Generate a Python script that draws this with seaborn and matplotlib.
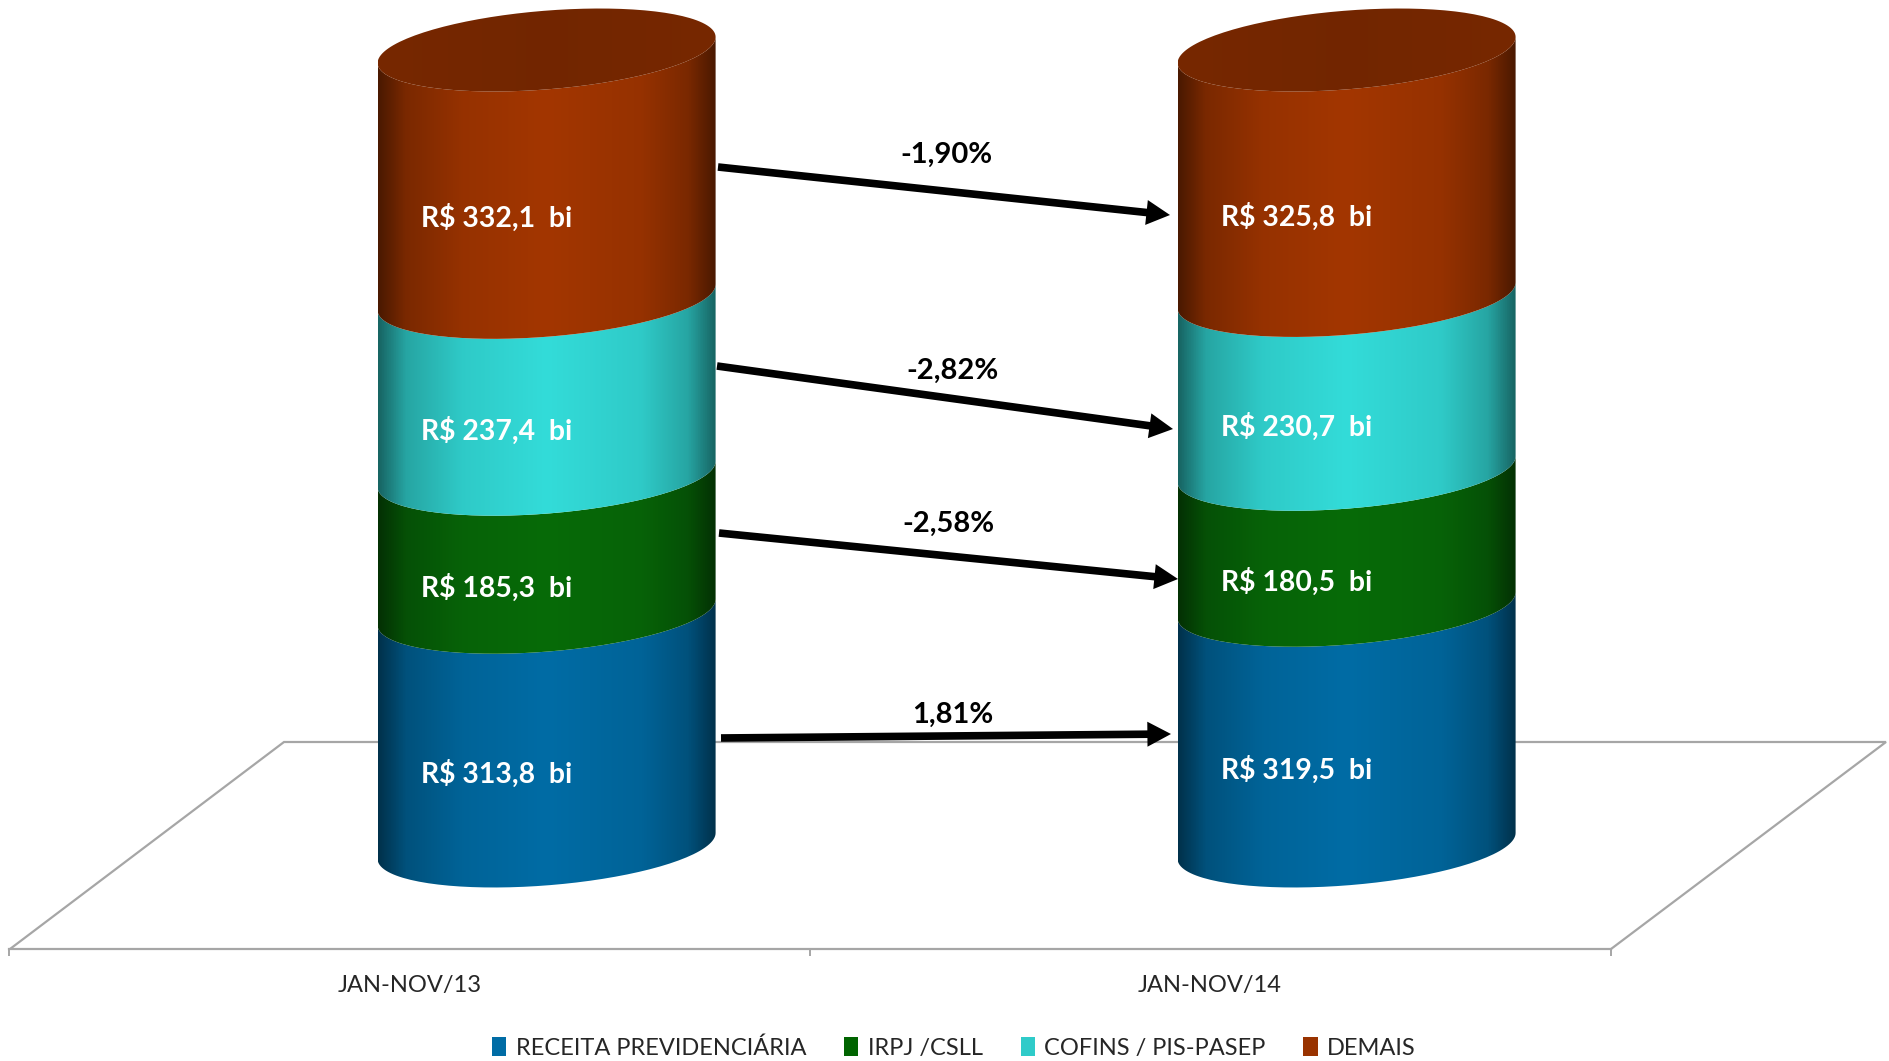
import numpy as np
import pandas as pd
import matplotlib.pyplot as plt
import seaborn as sns
from matplotlib.colors import LinearSegmentedColormap
from matplotlib.patches import Patch, PathPatch, Polygon
from matplotlib.path import Path

# data, in R$ bi
periods = ['JAN-NOV/13', 'JAN-NOV/14']
categories = ['RECEITA PREVIDENCIÁRIA', 'IRPJ /CSLL', 'COFINS / PIS-PASEP', 'DEMAIS']
values_13 = [313.8, 185.3, 237.4, 332.1]
values_14 = [319.5, 180.5, 230.7, 325.8]
changes = ['1,81%', '-2,58%', '-2,82%', '-1,90%']

colors = ['#006CA5', '#076B08', '#33DCD9', '#A33600']
legend_colors = ['#006CA5', '#006400', '#2FCBC9', '#993300']

W, H = 1889, 1061
# pixel layout of the picture
X0, X_STEP = 546.6, 800.0
Y0, Y_STEP = 846.0, 7.96


def px(x, y):
    return (x - X0) / X_STEP, (Y0 - y) / Y_STEP


def arc(cx, cy, a, b, s):
    # front half of the tilted ellipse, left to right
    t = np.linspace(np.pi, 2 * np.pi, 80)
    return cx + a * np.cos(t), cy + s * np.cos(t) + b * np.sin(t)


def fill_gradient(ax, verts, color, stops, factors, extent, zorder):
    rgb = np.array(plt.matplotlib.colors.to_rgb(color))
    cmap = LinearSegmentedColormap.from_list(
        'g', [(p, tuple(rgb * f)) for p, f in zip(stops, factors)])
    im = ax.imshow(np.linspace(0, 1, 400)[None, :], cmap=cmap, vmin=0, vmax=1, extent=extent,
                   aspect='auto', origin='lower', zorder=zorder, interpolation='bilinear')
    clip = PathPatch(Path(verts), transform=ax.transData, fc='none', ec='none')
    ax.add_patch(clip)
    im.set_clip_path(clip)


sns.set_theme(style='white')
plt.rcParams['font.family'] = ['Lato', 'DejaVu Sans']

# both columns are 100% stacked, the labels carry the R$ values
rows = []
for period, vals in zip(periods, [values_13, values_14]):
    total = sum(vals)
    bottom = 0
    for cat, v in zip(categories, vals):
        rows.append({'period': period, 'category': cat, 'value': v,
                     'share': v / total * 100, 'bottom': bottom})
        bottom += v / total * 100
df = pd.DataFrame(rows)

fig = plt.figure(figsize=(W / 100, H / 100), dpi=100)
ax = fig.add_axes([0, 0, 1, 1])
ax.patch.set_alpha(0)

for cat in categories:
    sub = df[df['category'] == cat]
    sns.barplot(data=sub, x='period', y='share', bottom=sub['bottom'].values, order=periods,
                color='white', width=338 / X_STEP, errorbar=None, ax=ax)

# turn the flat bars into cylinders
stops = [0, 0.08, 0.25, 0.5, 0.78, 0.92, 1]
factors = [0.46, 0.75, 0.92, 1, 0.92, 0.75, 0.46]
tilt = 13 / Y_STEP
depth = 39.4 / Y_STEP
for c, container in enumerate(ax.containers):
    for rect in container:
        x, w = rect.get_x(), rect.get_width()
        y, h = rect.get_y(), rect.get_height()
        rect.set_visible(False)
        cx = x + w / 2
        xl, yl = arc(cx, y, w / 2, depth, tilt)
        xu, yu = arc(cx, y + h, w / 2, depth, tilt)
        verts = np.vstack([np.column_stack([xl, yl]), np.column_stack([xu, yu])[::-1]])
        verts = np.vstack([verts, verts[0]])
        fill_gradient(ax, verts, colors[c], stops, factors,
                      [x, x + w, -30, 120], 3 + c)
        if c == len(categories) - 1:
            xt = np.r_[xu, xu[::-1]]
            yt = np.r_[yu, 2 * (y + h) - yu]
            top = np.column_stack([xt, yt])
            top = np.vstack([top, top[0]])
            fill_gradient(ax, top, colors[c], [0, 0.5, 1], [0.73, 0.7, 0.73],
                          [x, x + w, -30, 120], 8)

# value labels on the front of each segment
for i, period in enumerate(periods):
    for _, row in df[df['period'] == period].iterrows():
        ax.text(i - 50 / X_STEP, row['bottom'] + row['share'] / 2 - 44.5 / Y_STEP,
                f"R$ {row['value']:.1f}  bi".replace('.', ','), color='white', fontsize=20.4,
                fontweight='bold', ha='center', va='center', zorder=12)

# floor of the 3d chart
floor = [px(10, 949), px(284, 742), px(1886, 742), px(1611, 949)]
ax.add_patch(Polygon(floor, closed=False, fc='none', ec='#A6A6A6', lw=1.6, zorder=1))

# front edge of the floor is the x axis
sns.despine(ax=ax, left=True, top=True, right=True)
ax.spines['bottom'].set_position(('data', px(0, 949)[1]))
ax.spines['bottom'].set_color('#A6A6A6')
ax.spines['bottom'].set_linewidth(1.6)
ax.spines['bottom'].set_bounds(px(9, 0)[0], px(1611, 0)[0])
ax.set_xticks([px(9, 0)[0], px(810, 0)[0], px(1611, 0)[0]], labels=['', '', ''])
ax.set_xticks([px(410, 0)[0], px(1210, 0)[0]], labels=periods, minor=True)
ax.tick_params(axis='x', which='major', length=5, width=1.4, color='#A6A6A6', bottom=True)
ax.tick_params(axis='x', which='minor', length=0, pad=19, labelsize=17, labelcolor='#262626')
ax.set_yticks([])
ax.set_xlabel('')
ax.set_ylabel('')
ax.set_xlim(px(0, 0)[0], px(W, 0)[0])
ax.set_ylim(px(0, H)[1], px(0, 0)[1])

# change arrows, bottom segment first
arrow_start = [(721, 738), (719, 533), (717, 366), (718, 167)]
arrow_end = [(1171, 734), (1178, 579), (1173, 429), (1170, 215)]
change_pos = [(953, 715), (948, 524), (952, 371), (946, 155)]
for start, end, pos, label in zip(arrow_start, arrow_end, change_pos, changes):
    ax.annotate('', xy=px(*end), xytext=px(*start), zorder=11,
                arrowprops=dict(width=5.5, headwidth=18, headlength=17, shrink=0,
                                fc='black', ec='black', lw=0))
    ax.text(*px(*pos), label, color='black', fontsize=21, fontweight='bold',
            ha='center', va='center', zorder=12)

handles = [Patch(fc=c, ec='none') for c in legend_colors]
fig.legend(handles, categories, ncols=4, loc='center', bbox_to_anchor=(954 / W, 1 - 1048 / H),
           frameon=False, fontsize=17, handlelength=0.6, handleheight=0.85, handletextpad=0.4,
           columnspacing=1.6, labelcolor='#262626')

fig.savefig('out.png', dpi=100)
